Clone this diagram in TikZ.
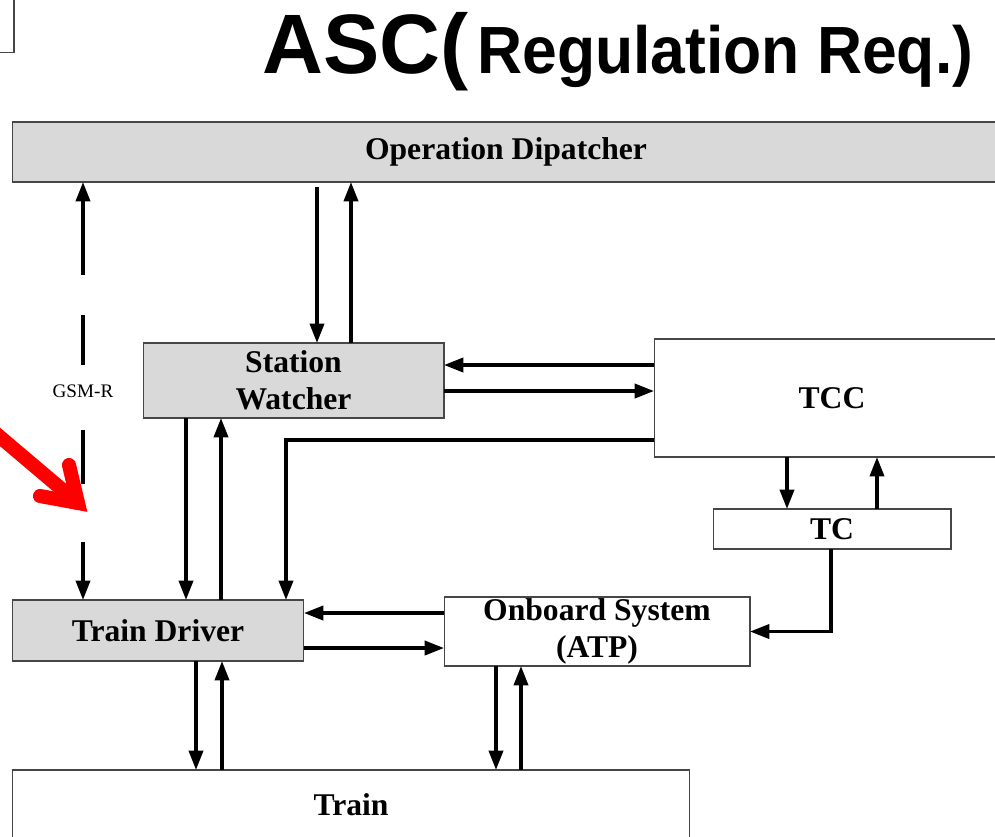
\documentclass[tikz,border=0pt]{standalone}
\usepackage{fontspec}
\setmainfont{Liberation Serif}
\newfontfamily\ttlfont{Liberation Sans}
\usetikzlibrary{arrows.meta,positioning,calc}
\definecolor{bx}{RGB}{217,217,217}
\definecolor{ln}{RGB}{70,70,70}
\definecolor{rd}{RGB}{255,0,0}

\begin{document}
\begin{tikzpicture}[x=0.02cm,y=-0.02cm,
    blk/.style={rectangle,draw=ln,line width=0.6pt,inner sep=0pt,outer sep=0pt,align=center,font=\bfseries\fontsize{18}{21}\selectfont},
    arr/.style={-{Triangle[length=11pt,width=8pt]},line width=2pt},
    arrs/.style={{Triangle[length=11pt,width=8pt]}-{Triangle[length=11pt,width=8pt]},line width=2pt},
    ptr/.style={rd,line width=8pt,line cap=round},
]
\clip (0,0) rectangle (995,836);

\node[draw=ln,line width=0.6pt,minimum width=1cm,minimum height=1.5cm,inner sep=0pt] (stub) at (-11,15) {};
\node[anchor=base west,inner sep=0pt,font=\ttlfont\bfseries] (ttl) at (262,73) {\fontsize{48}{50}\selectfont ASC(\hspace{5pt}\scalebox{0.935}[1]{\fontsize{38}{40}\selectfont Regulation Req.)}};

\node[blk,fill=bx,minimum width=19.76cm,minimum height=1.2cm] (disp) at (506,152) {Operation Dipatcher};
\node[blk,fill=bx,minimum width=6.02cm,minimum height=1.5cm] (sw) at (293.5,380.5) {Station\\Watcher};
\node[blk,fill=white,minimum width=7.12cm,minimum height=2.36cm] (tcc) at (832,398) {TCC};
\node[blk,fill=white,minimum width=4.76cm,minimum height=0.8cm] (tc) at (832,529) {TC};
\node[blk,fill=bx,minimum width=5.84cm,minimum height=1.22cm] (drv) at (158,630.5) {Train Driver};
\node[blk,fill=white,minimum width=6.12cm,minimum height=1.38cm] (obs) at (597,631.5) {Onboard System\\(ATP)};
\node[blk,fill=white,minimum width=13.56cm,minimum height=1.4cm] (train) at (351,805) {Train};

% dispatcher - station watcher
\draw[arr,shorten <=2.8pt] (disp.south -| 317,0) -- (sw.north -| 317,0);
\draw[arr] (sw.north -| 351,0) -- (disp.south -| 351,0);

% GSM-R link
\draw[arrs,dash pattern=on 42.5pt off 22.7pt on 28.3pt off 36.9pt on 31.2pt off 32.9pt on 22.1pt] (disp.south -| 83,0) -- (drv.north -| 83,0)
    node[midway,font=\fontsize{10.9}{12}\selectfont] (gsm) {GSM-R};

% station watcher - train driver
\draw[arr] (sw.south -| 186,0) -- (drv.north -| 186,0);
\draw[arr] (drv.north -| 221,0) -- (sw.south -| 221,0);

% TCC links
\draw[arr] (tcc.west |- 0,365) -- (sw.east |- 0,365);
\draw[arr] (sw.east |- 0,391) -- (tcc.west |- 0,391);
\draw[arr] (tcc.west |- 0,440) -| (drv.north -| 286,0);
\draw[arr] (tcc.south -| 787,0) -- (tc.north -| 787,0);
\draw[arr] (tc.north -| 877,0) -- (tcc.south -| 877,0);
\draw[arr] (tc.south -| 831,0) |- (obs.east);

% onboard - train driver
\draw[arr] (obs.west |- 0,613) -- (drv.east |- 0,613);
\draw[arr] (drv.east |- 0,648) -- (obs.west |- 0,648);

% to the train
\draw[arr] (drv.south -| 196,0) -- (train.north -| 196,0);
\draw[arr] (train.north -| 222,0) -- (drv.south -| 222,0);
\draw[arr] (obs.south -| 496,0) -- (train.north -| 496,0);
\draw[arr] (train.north -| 521,0) -- (obs.south -| 521,0);

% red pointer
\coordinate (tip) at (78,503);
\draw[ptr] (-20,420) -- (tip);
\draw[ptr,line join=miter] (69,465) -- (tip) -- (40,496);
\end{tikzpicture}
\end{document}
